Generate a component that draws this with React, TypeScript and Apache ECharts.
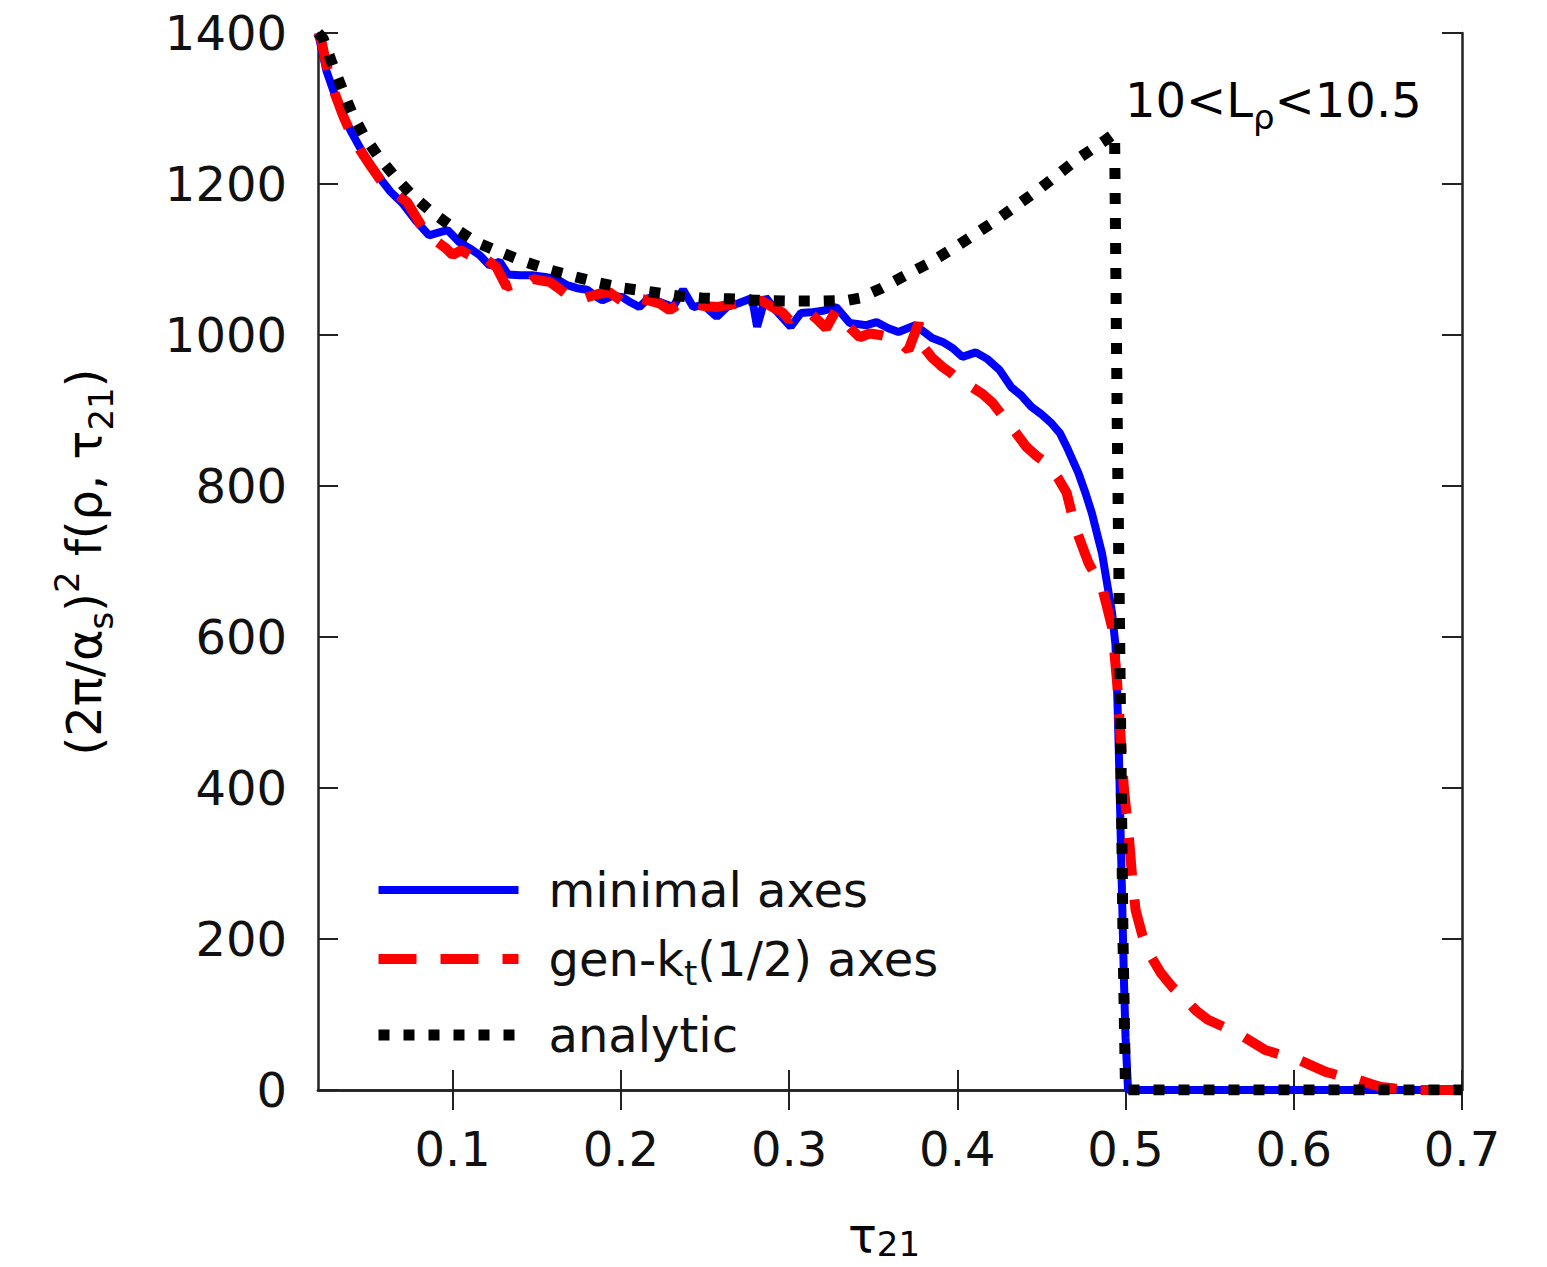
import React, { useEffect, useRef } from "react";
import * as echarts from "echarts";

const xTicks = [0.1, 0.2, 0.3, 0.4, 0.5, 0.6, 0.7];
const yTicks = [0, 200, 400, 600, 800, 1000, 1200, 1400];

const minimalX = [0.02, 0.025, 0.03, 0.035, 0.04, 0.045, 0.05, 0.056, 0.063, 0.07, 0.078, 0.086, 0.092, 0.097, 0.104, 0.11, 0.116, 0.122, 0.128, 0.133, 0.14, 0.148, 0.155, 0.162, 0.168, 0.174, 0.18, 0.186, 0.189, 0.195, 0.201, 0.206, 0.211, 0.217, 0.224, 0.231, 0.237, 0.243, 0.249, 0.257, 0.263, 0.27, 0.278, 0.281, 0.286, 0.292, 0.301, 0.307, 0.313, 0.32, 0.328, 0.336, 0.346, 0.352, 0.359, 0.365, 0.375, 0.385, 0.392, 0.397, 0.403, 0.411, 0.418, 0.425, 0.432, 0.438, 0.444, 0.45, 0.456, 0.461, 0.465, 0.472, 0.476, 0.48, 0.486, 0.49, 0.492, 0.494, 0.495, 0.496, 0.497, 0.498, 0.499, 0.5, 0.5015, 0.6, 0.7];
const minimalY = [1400, 1350, 1318, 1290, 1268, 1248, 1230, 1210, 1190, 1175, 1152, 1132, 1136, 1139, 1123, 1115, 1106, 1092, 1097, 1080, 1079, 1079, 1077, 1074, 1066, 1062, 1060, 1050, 1046, 1052, 1050, 1043, 1037, 1050, 1043, 1037, 1060, 1037, 1040, 1024, 1037, 1042, 1049, 1011, 1050, 1033, 1011, 1029, 1030, 1032, 1037, 1016, 1013, 1017, 1009, 1004, 1013, 996, 990, 983, 971, 977, 968, 954, 931, 920, 905, 895, 883, 870, 852, 817, 792, 764, 711, 658, 632, 590, 530, 450, 350, 250, 150, 70, 0, 0, 0];

const genktX = [0.02, 0.022, 0.025, 0.03, 0.035, 0.04, 0.045, 0.05, 0.055, 0.059, 0.066, 0.073, 0.08, 0.085, 0.09, 0.096, 0.1, 0.105, 0.11, 0.115, 0.12, 0.126, 0.132, 0.137, 0.142, 0.148, 0.153, 0.158, 0.163, 0.168, 0.175, 0.18, 0.186, 0.193, 0.198, 0.203, 0.209, 0.216, 0.223, 0.229, 0.234, 0.239, 0.245, 0.251, 0.257, 0.264, 0.27, 0.278, 0.284, 0.29, 0.296, 0.3, 0.306, 0.312, 0.317, 0.322, 0.328, 0.335, 0.342, 0.348, 0.354, 0.36, 0.366, 0.371, 0.377, 0.38, 0.385, 0.391, 0.396, 0.401, 0.408, 0.415, 0.421, 0.429, 0.435, 0.441, 0.447, 0.453, 0.46, 0.465, 0.47, 0.474, 0.478, 0.482, 0.486, 0.489, 0.492, 0.495, 0.497, 0.499, 0.502, 0.504, 0.506, 0.51, 0.514, 0.521, 0.528, 0.536, 0.542, 0.549, 0.558, 0.567, 0.575, 0.583, 0.593, 0.603, 0.611, 0.619, 0.629, 0.639, 0.646, 0.652, 0.66, 0.67, 0.7];
const genktY = [1400, 1390, 1358, 1320, 1290, 1265, 1245, 1228, 1212, 1199, 1188, 1176, 1150, 1132, 1125, 1115, 1106, 1112, 1106, 1112, 1100, 1090, 1064, 1068, 1062, 1074, 1072, 1070, 1062, 1053, 1046, 1050, 1054, 1057, 1049, 1042, 1049, 1046, 1042, 1033, 1040, 1046, 1040, 1038, 1037, 1040, 1042, 1046, 1045, 1037, 1030, 1020, 1028, 1030, 1020, 1009, 1033, 1012, 997, 1002, 1000, 997, 990, 980, 1016, 984, 970, 958, 950, 940, 932, 922, 910, 887, 870, 852, 840, 830, 810, 791, 746, 722, 698, 682, 666, 640, 613, 540, 470, 400, 335, 280, 238, 205, 181, 155, 136, 119, 105, 93, 84, 75, 64, 53, 46, 40, 32, 24, 18, 13, 8, 4, 2, 0, 0];

const analyticX = [0.02, 0.023, 0.028, 0.034, 0.04, 0.047, 0.056, 0.066, 0.076, 0.088, 0.1, 0.114, 0.128, 0.143, 0.158, 0.173, 0.187, 0.202, 0.218, 0.233, 0.248, 0.264, 0.28, 0.3, 0.32, 0.335, 0.342, 0.355, 0.37, 0.383, 0.4, 0.423, 0.448, 0.472, 0.488, 0.4935, 0.495, 0.497, 0.4985, 0.5, 0.7];
const analyticY = [1400, 1393, 1362, 1328, 1295, 1265, 1236, 1209, 1185, 1162, 1143, 1123, 1110, 1097, 1086, 1077, 1069, 1062, 1057, 1052, 1049, 1048, 1046, 1045, 1045, 1046, 1049, 1062, 1080, 1095, 1118, 1152, 1192, 1234, 1258, 1267, 900, 500, 200, 0, 0];

const seriesNames = ["minimal axes", "gen-kt(1/2) axes", "analytic"];

const FONT = "DejaVu Sans";
const TXT = "#111";
const FS = 48;
const FS_SUB = 34;

const zip = (xs: number[], ys: number[]) => xs.map((x, i) => [x, ys[i]]);

export default function App() {
  const ref = useRef<HTMLDivElement>(null);
  useEffect(() => {
    if (!ref.current) return;
    const chart = echarts.init(ref.current, undefined, { renderer: "svg" });
    const axisLine = { show: true, lineStyle: { color: "#222", width: 2.5 } };
    const tick = { inside: true, length: 20, lineStyle: { color: "#222", width: 2 } };
    const rich = {
      n: { fontSize: FS, fontFamily: FONT, color: TXT, lineHeight: 68, verticalAlign: "middle" },
      sub: { fontSize: FS_SUB, fontFamily: FONT, color: TXT, lineHeight: 32, verticalAlign: "bottom" },
      sup: { fontSize: FS_SUB, fontFamily: FONT, color: TXT, lineHeight: 46, verticalAlign: "top" },
    };
    const richX = {
      n: { fontSize: FS, fontFamily: FONT, color: TXT, lineHeight: 52, verticalAlign: "middle" },
      sub: { fontSize: FS_SUB, fontFamily: FONT, color: TXT, lineHeight: 20, verticalAlign: "bottom" },
    };
    const richAnn = {
      n: { fontSize: FS, fontFamily: FONT, color: TXT, lineHeight: 68, verticalAlign: "middle" },
      sub: { fontSize: FS_SUB, fontFamily: FONT, color: TXT, lineHeight: 32, verticalAlign: "bottom" },
    };
    const richLegend = {
      n: { fontSize: FS, fontFamily: FONT, color: TXT, lineHeight: 62, verticalAlign: "middle" },
      sub: { fontSize: FS_SUB, fontFamily: FONT, color: TXT, lineHeight: 20, verticalAlign: "bottom" },
    };
    chart.setOption({
      animation: false,
      backgroundColor: "#fff",
      grid: { left: 318, top: 33, right: 85, bottom: 177, containLabel: false },
      xAxis: [
        {
          type: "value", min: 0.02, max: 0.7, position: "bottom",
          axisLine,
          axisTick: { ...tick, customValues: xTicks },
          axisLabel: { customValues: xTicks, fontSize: FS, fontFamily: FONT, color: TXT, margin: 35, formatter: (v: number) => v.toFixed(1) },
          splitLine: { show: false },
        },
        {
          type: "value", min: 0.02, max: 0.7, position: "top",
          axisLine,
          axisTick: { ...tick, customValues: xTicks },
          axisLabel: { show: false },
          splitLine: { show: false },
        },
      ],
      yAxis: [
        {
          type: "value", min: 0, max: 1400, position: "left",
          axisLine,
          axisTick: { ...tick, customValues: yTicks },
          axisLabel: { customValues: yTicks, fontSize: FS, fontFamily: FONT, color: TXT, margin: 31, formatter: (v: number) => String(v) },
          splitLine: { show: false },
        },
        {
          type: "value", min: 0, max: 1400, position: "right",
          axisLine,
          axisTick: { ...tick, customValues: yTicks },
          axisLabel: { show: false },
          splitLine: { show: false },
        },
      ],
      legend: {
        orient: "vertical", left: 373, top: 866, padding: 0, itemWidth: 140, itemHeight: 10, itemGap: 21,
        itemStyle: { opacity: 0 },
        data: [
          { name: seriesNames[0], lineStyle: { width: 8 } },
          { name: seriesNames[1], lineStyle: { width: 10 } },
          { name: seriesNames[2], lineStyle: { width: 11 } },
        ],
        formatter: (name: string) => name === seriesNames[1] ? "{n|gen-k}{sub|t}{n|(1/2) axes}" : `{n|${name}}`,
        textStyle: { fontSize: FS, fontFamily: FONT, color: TXT, padding: [0, 0, 0, 25], rich: richLegend },
      },
      series: [
        {
          name: seriesNames[0], type: "line", data: zip(minimalX, minimalY), symbol: "none",
          lineStyle: { color: "#0000ff", width: 8 }, itemStyle: { color: "#0000ff" }, z: 2,
        },
        {
          name: seriesNames[1], type: "line", data: zip(genktX, genktY), symbol: "none",
          lineStyle: { color: "#ff0000", width: 10, type: [38, 24] }, itemStyle: { color: "#ff0000" }, z: 3,
        },
        {
          name: seriesNames[2], type: "line", data: zip(analyticX, analyticY), symbol: "none",
          lineStyle: { color: "#000000", width: 11, type: [11, 14] }, itemStyle: { color: "#000000" }, z: 4,
        },
      ],
      graphic: [
        {
          type: "text", x: 84, y: 562, rotation: Math.PI / 2,
          style: {
            text: "{n|(2π/α}{sub|s}{n|)}{sup|2}{n| f(ρ, τ}{sub|21}{n|)}",
            rich, align: "center", verticalAlign: "middle",
          },
        },
        {
          type: "text", x: 884, y: 1235,
          style: { text: "{n|τ}{sub|21}", rich: richX, align: "center", verticalAlign: "middle" },
        },
        {
          type: "text", x: 1125, y: 100,
          style: { text: "{n|10<L}{sub|ρ}{n|<10.5}", rich: richAnn, align: "left", verticalAlign: "middle" },
        },
      ],
    });
    return () => chart.dispose();
  }, []);
  return <div ref={ref} style={{ position: "fixed", left: 0, top: 0, width: 1547, height: 1267 }} />;
}
